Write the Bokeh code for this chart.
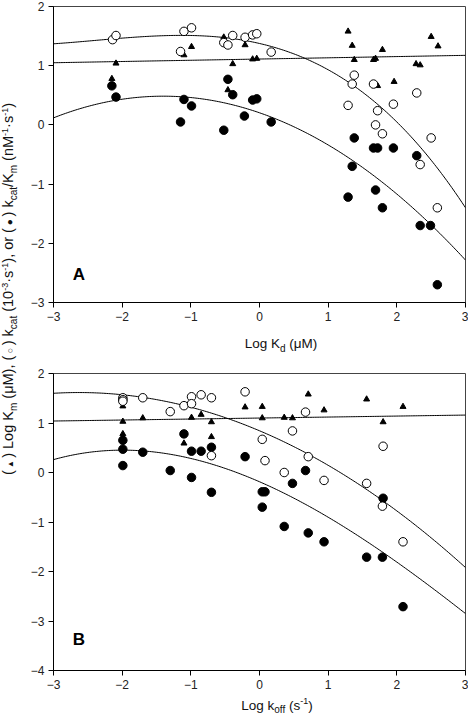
import numpy as np
from bokeh.plotting import figure
from bokeh.models import Range1d, FixedTicker, Label, Div
from bokeh.layouts import row, column
from bokeh.embed import file_html
from bokeh.resources import INLINE

# ---------------- Panel A : vs Log Kd ----------------
open_A_x = [-2.14, -2.09, -1.15, -1.10, -0.99, -0.52, -0.46, -0.39, -0.21, -0.10, -0.04, 0.17,
            1.29, 1.35, 1.38, 1.66, 1.69, 1.72, 1.79, 1.95, 2.29, 2.34, 2.50, 2.59]
open_A_y = [1.44, 1.51, 1.24, 1.58, 1.64, 1.39, 1.35, 1.51, 1.48, 1.52, 1.54, 1.23,
            0.33, 0.69, 0.84, 0.69, 0.00, 0.24, -0.15, 0.35, 0.54, -0.67, -0.22, -1.40]
filled_A_x = [-2.15, -2.09, -1.15, -1.10, -0.99, -0.52, -0.46, -0.39, -0.22, -0.10, -0.04, 0.17,
              1.29, 1.35, 1.38, 1.66, 1.69, 1.72, 1.79, 1.95, 2.29, 2.34, 2.49, 2.59]
filled_A_y = [0.66, 0.47, 0.05, 0.43, 0.32, -0.09, 0.77, 0.51, 0.15, 0.42, 0.44, 0.05,
              -1.22, -0.70, -0.22, -0.39, -1.10, -0.39, -1.40, -0.39, -0.52, -1.70, -1.70, -2.70]
tri_A_x = [-2.15, -2.09, -1.10, -0.99, -0.52, -0.46, -0.39, -0.21, -0.10, -0.04,
           1.29, 1.35, 1.38, 1.66, 1.69, 1.72, 1.79, 1.96, 2.28, 2.34, 2.50, 2.60]
tri_A_y = [0.78, 1.04, 1.18, 1.32, 1.48, 0.59, 1.03, 1.35, 1.11, 1.12,
           1.58, 1.34, 1.10, 1.10, 1.12, 0.66, 1.27, 0.73, 1.03, 1.01, 1.49, 1.33]
# regression-curve coefficients (highest power first)
fit_open_A = [-0.02152, -0.1545, -0.268, 1.3754]
fit_filled_A = [-0.143, -0.4004, 0.2047]
fit_tri_A = [0.0208, 1.1125]

# ---------------- Panel B : vs Log koff ----------------
open_B_x = [-1.99, -1.99, -1.99, -1.70, -1.30, -1.10, -0.99, -0.99, -0.85, -0.70, -0.70, -0.21,
            0.04, 0.08, 0.36, 0.48, 0.67, 0.71, 0.94, 1.56, 1.79, 1.80, 2.09]
open_B_y = [1.51, 1.47, 1.44, 1.51, 1.23, 1.35, 1.53, 1.39, 1.57, 1.51, 0.34, 1.63,
            0.67, 0.24, 0.00, 0.84, 1.22, 0.32, -0.16, -0.22, -0.68, 0.53, -1.40]
filled_B_x = [-1.99, -1.99, -1.99, -1.70, -1.30, -1.10, -0.99, -0.99, -0.85, -0.70, -0.70, -0.21,
              0.04, 0.08, 0.04, 0.36, 0.48, 0.67, 0.71, 0.94, 1.56, 1.79, 1.80, 2.09]
filled_B_y = [0.65, 0.47, 0.14, 0.41, 0.04, 0.78, 0.43, -0.10, 0.43, 0.51, -0.40, 0.32,
              -0.39, -0.39, -0.70, -1.09, -0.22, 0.04, -1.22, -1.40, -1.71, -1.71, -0.52, -2.71]
tri_B_x = [-1.99, -1.99, -1.99, -1.99, -1.70, -1.10, -0.99, -0.85, -0.70, -0.70,
           -0.21, 0.04, 0.04, 0.36, 0.48, 0.71, 0.94, 1.56, 1.80, 2.09]
tri_B_y = [1.34, 1.03, 0.78, 0.71, 1.10, 0.59, 1.11, 1.17, 1.02, 0.72,
           1.32, 1.33, 1.10, 1.11, 1.10, 1.58, 1.26, 1.48, 1.02, 1.33]
fit_open_B = [-0.11147, -0.5867, 0.8433]
fit_filled_B = [0.009423, -0.12313, -0.60314, -0.18683]
fit_tri_B = [0.02, 1.10]

x_ticks = [-3, -2, -1, 0, 1, 2, 3]
y_ticks_A = [-3, -2, -1, 0, 1, 2]
y_ticks_B = [-4, -3, -2, -1, 0, 1, 2]

FONT = "Liberation Sans"


def make_panel(height, ymin, yticks, btop, bbot, letter, letter_y,
               ox, oy, fx, fy, tx, ty, fits):
    p = figure(width=446, height=height, x_range=Range1d(-3, 3), y_range=Range1d(ymin, 2),
               output_backend="svg", toolbar_location=None,
               min_border_left=31, min_border_right=3, min_border_top=btop,
               min_border_bottom=bbot, margin=(0, 0, 0, 0))
    p.grid.visible = False
    p.outline_line_color = "#444444"
    p.outline_line_width = 1
    p.background_fill_color = "white"
    p.border_fill_color = "white"
    p.xaxis.ticker = FixedTicker(ticks=x_ticks)
    p.yaxis.ticker = FixedTicker(ticks=yticks)
    for ax in (p.xaxis[0], p.yaxis[0]):
        ax.axis_line_color = "black"
        ax.major_tick_line_color = "black"
        ax.major_tick_out = 5
        ax.major_tick_in = 0
        ax.minor_tick_out = 0
        ax.minor_tick_in = 0
        ax.major_label_text_font = FONT
        ax.major_label_text_font_size = "12px"
        ax.major_label_text_color = "#222222"
        ax.major_label_standoff = 4
    xs = np.linspace(-3, 3, 241)
    for c in fits:
        p.line(xs, np.polyval(c, xs), line_color="black", line_width=1)
    p.scatter(tx, ty, marker="triangle", size=6, fill_color="black", line_color="black")
    p.scatter(fx, fy, marker="circle", size=8.5, fill_color="black", line_color="black")
    p.scatter(ox, oy, marker="circle", size=8.5, fill_color="white", line_color="black",
              line_width=1)
    p.add_layout(Label(x=-2.63, y=letter_y, text=letter, text_font=FONT,
                       text_font_size="17px", text_font_style="bold",
                       text_align="center", text_baseline="middle", text_color="black"))
    return p


pA = make_panel(334, -3, y_ticks_A, 6, 32, "A", -2.52,
                open_A_x, open_A_y, filled_A_x, filled_A_y, tri_A_x, tri_A_y,
                [fit_tri_A, fit_open_A, fit_filled_A])
pB = make_panel(338, -4, y_ticks_B, 17, 24, "B", -3.38,
                open_B_x, open_B_y, filled_B_x, filled_B_y, tri_B_x, tri_B_y,
                [fit_tri_B, fit_open_B, fit_filled_B])

lab_style = ("position:absolute;transform:translateX(-50%);white-space:nowrap;"
             "font-family:'Liberation Sans',Arial,sans-serif;font-size:13.5px;color:#111;")
xlabA = Div(width=446, height=22, margin=(0, 0, 0, 0),
            text=f'<div style="{lab_style}left:259px;top:0px;">Log K<sub style="font-size:10px">d</sub> (&mu;M)</div>')
xlabB = Div(width=446, height=23, margin=(0, 0, 0, 0),
            text=f'<div style="{lab_style}left:255px;top:1px;">Log k<sub style="font-size:10px">off</sub> (s<sup style="font-size:9px">-1</sup>)</div>')

ystyle = ("position:absolute;left:10px;top:289px;transform:translate(-50%,-50%) rotate(-90deg);"
          "white-space:nowrap;font-family:'Liberation Sans',Arial,sans-serif;font-size:14.5px;color:#111;")
sub = 'style="font-size:10px"'
sup = 'style="font-size:9px"'
ytext = (f'(<span style="font-size:8px"> &#9650; </span>) Log K<sub {sub}>m</sub> (&mu;M), '
         f'(<span style="font-size:9px"> &#9675; </span>) k<sub {sub}>cat</sub> '
         f'(10<sup {sup}>-3</sup>&middot;s<sup {sup}>-1</sup>), or '
         f'(<span style="font-size:10px"> &#9679; </span>) k<sub {sub}>cat</sub>/K<sub {sub}>m</sub> '
         f'(nM<sup {sup}>-1</sup>&middot;s<sup {sup}>-1</sup>)')
ylab = Div(width=22, height=717, margin=(0, 0, 0, 0),
           text=f'<div style="{ystyle}">{ytext}</div>')

layout = row(ylab, column(pA, xlabA, pB, xlabB, margin=(0, 0, 0, 0)), margin=(0, 0, 0, 0))

with open("out.html", "w") as f:
    f.write(file_html(layout, INLINE))
